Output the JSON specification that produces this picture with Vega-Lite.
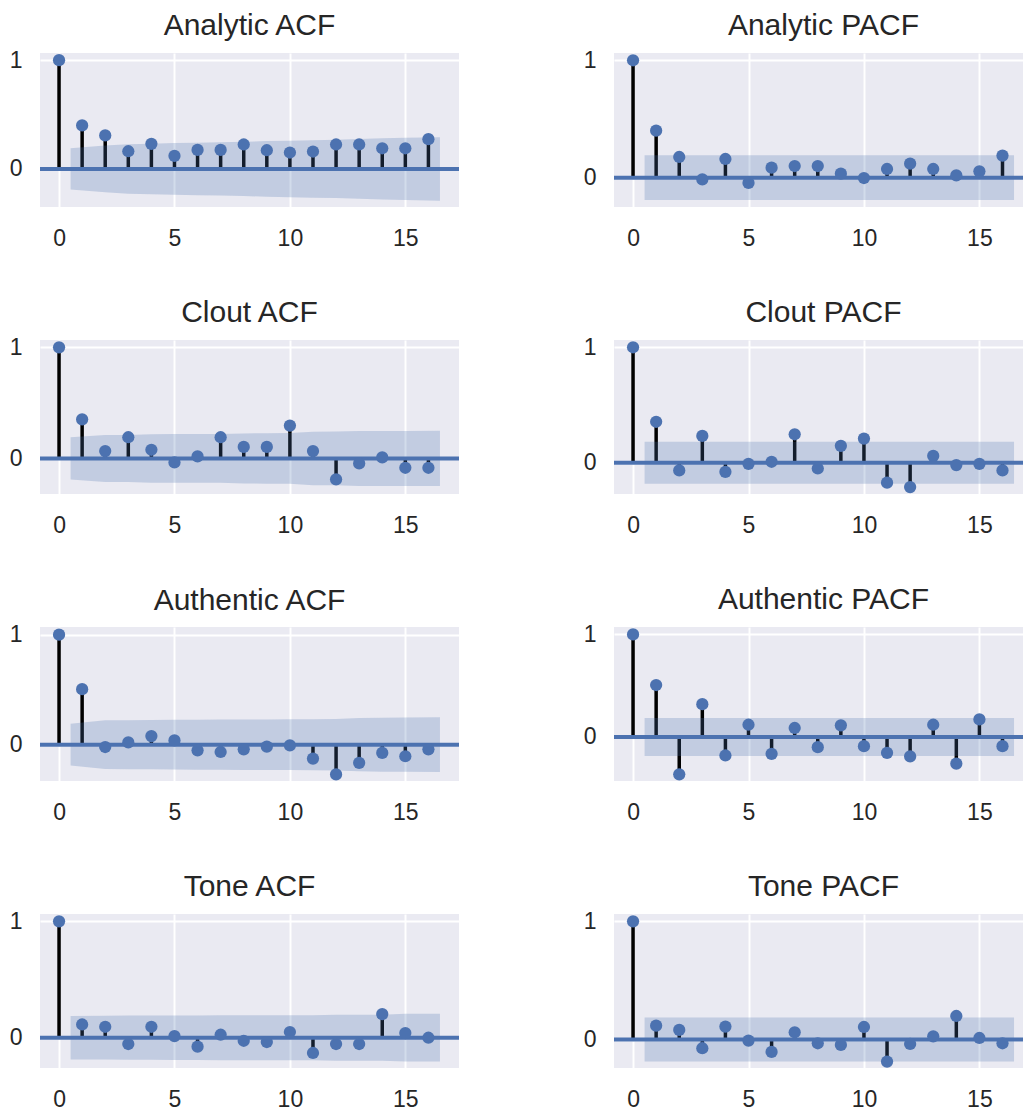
{
"$schema": "https://vega.github.io/schema/vega-lite/v6.json",
"background": "white",
"padding": {"left": 9, "top": 11, "right": 0, "bottom": 0},
"config": {
  "view": {"fill": "#EAEAF2", "stroke": null},
  "font": "Liberation Sans",
  "axis": {"domain": false, "ticks": false, "tickSize": 0, "grid": true, "gridColor": "#FFFFFF", "gridWidth": 2, "gridOpacity": 1, "labelFont": "Liberation Sans", "labelFontSize": 23, "labelColor": "#262626"},
  "axisX": {"labelPadding": 20},
  "axisY": {"labelPadding": 18},
  "title": {"font": "Liberation Sans", "fontSize": 30, "fontWeight": "normal", "color": "#262626", "baseline": "alphabetic", "offset": 8, "anchor": "middle", "frame": "group"}
},
"columns": 2,
"spacing": {"row": 133, "column": 155},
"bounds": "flush",
"datasets": {
  "zero": [{"y": 0}],
  "acf": [
    {"p":"aa","lag":0,"v":1},{"p":"aa","lag":1,"v":0.40},{"p":"aa","lag":2,"v":0.308},{"p":"aa","lag":3,"v":0.163},{"p":"aa","lag":4,"v":0.231},{"p":"aa","lag":5,"v":0.12},{"p":"aa","lag":6,"v":0.175},{"p":"aa","lag":7,"v":0.175},{"p":"aa","lag":8,"v":0.225},{"p":"aa","lag":9,"v":0.172},{"p":"aa","lag":10,"v":0.151},{"p":"aa","lag":11,"v":0.16},{"p":"aa","lag":12,"v":0.225},{"p":"aa","lag":13,"v":0.225},{"p":"aa","lag":14,"v":0.19},{"p":"aa","lag":15,"v":0.19},{"p":"aa","lag":16,"v":0.274},
    {"p":"ap","lag":0,"v":1},{"p":"ap","lag":1,"v":0.40},{"p":"ap","lag":2,"v":0.176},{"p":"ap","lag":3,"v":-0.014},{"p":"ap","lag":4,"v":0.159},{"p":"ap","lag":5,"v":-0.045},{"p":"ap","lag":6,"v":0.085},{"p":"ap","lag":7,"v":0.099},{"p":"ap","lag":8,"v":0.099},{"p":"ap","lag":9,"v":0.034},{"p":"ap","lag":10,"v":-0.003},{"p":"ap","lag":11,"v":0.074},{"p":"ap","lag":12,"v":0.119},{"p":"ap","lag":13,"v":0.074},{"p":"ap","lag":14,"v":0.02},{"p":"ap","lag":15,"v":0.054},{"p":"ap","lag":16,"v":0.188},
    {"p":"ca","lag":0,"v":1},{"p":"ca","lag":1,"v":0.352},{"p":"ca","lag":2,"v":0.066},{"p":"ca","lag":3,"v":0.191},{"p":"ca","lag":4,"v":0.078},{"p":"ca","lag":5,"v":-0.036},{"p":"ca","lag":6,"v":0.018},{"p":"ca","lag":7,"v":0.191},{"p":"ca","lag":8,"v":0.104},{"p":"ca","lag":9,"v":0.104},{"p":"ca","lag":10,"v":0.296},{"p":"ca","lag":11,"v":0.066},{"p":"ca","lag":12,"v":-0.188},{"p":"ca","lag":13,"v":-0.045},{"p":"ca","lag":14,"v":0.009},{"p":"ca","lag":15,"v":-0.084},{"p":"ca","lag":16,"v":-0.084},
    {"p":"cp","lag":0,"v":1},{"p":"cp","lag":1,"v":0.355},{"p":"cp","lag":2,"v":-0.066},{"p":"cp","lag":3,"v":0.233},{"p":"cp","lag":4,"v":-0.078},{"p":"cp","lag":5,"v":-0.009},{"p":"cp","lag":6,"v":0.009},{"p":"cp","lag":7,"v":0.247},{"p":"cp","lag":8,"v":-0.049},{"p":"cp","lag":9,"v":0.147},{"p":"cp","lag":10,"v":0.21},{"p":"cp","lag":11,"v":-0.172},{"p":"cp","lag":12,"v":-0.21},{"p":"cp","lag":13,"v":0.06},{"p":"cp","lag":14,"v":-0.02},{"p":"cp","lag":15,"v":-0.009},{"p":"cp","lag":16,"v":-0.066},
    {"p":"ua","lag":0,"v":1},{"p":"ua","lag":1,"v":0.505},{"p":"ua","lag":2,"v":-0.021},{"p":"ua","lag":3,"v":0.021},{"p":"ua","lag":4,"v":0.078},{"p":"ua","lag":5,"v":0.039},{"p":"ua","lag":6,"v":-0.051},{"p":"ua","lag":7,"v":-0.066},{"p":"ua","lag":8,"v":-0.042},{"p":"ua","lag":9,"v":-0.018},{"p":"ua","lag":10,"v":-0.006},{"p":"ua","lag":11,"v":-0.126},{"p":"ua","lag":12,"v":-0.27},{"p":"ua","lag":13,"v":-0.165},{"p":"ua","lag":14,"v":-0.075},{"p":"ua","lag":15,"v":-0.105},{"p":"ua","lag":16,"v":-0.042},
    {"p":"up","lag":0,"v":1},{"p":"up","lag":1,"v":0.506},{"p":"up","lag":2,"v":-0.365},{"p":"up","lag":3,"v":0.319},{"p":"up","lag":4,"v":-0.181},{"p":"up","lag":5,"v":0.119},{"p":"up","lag":6,"v":-0.165},{"p":"up","lag":7,"v":0.087},{"p":"up","lag":8,"v":-0.1},{"p":"up","lag":9,"v":0.113},{"p":"up","lag":10,"v":-0.09},{"p":"up","lag":11,"v":-0.155},{"p":"up","lag":12,"v":-0.19},{"p":"up","lag":13,"v":0.119},{"p":"up","lag":14,"v":-0.261},{"p":"up","lag":15,"v":0.171},{"p":"up","lag":16,"v":-0.09},
    {"p":"ta","lag":0,"v":1},{"p":"ta","lag":1,"v":0.114},{"p":"ta","lag":2,"v":0.094},{"p":"ta","lag":3,"v":-0.054},{"p":"ta","lag":4,"v":0.094},{"p":"ta","lag":5,"v":0.014},{"p":"ta","lag":6,"v":-0.077},{"p":"ta","lag":7,"v":0.026},{"p":"ta","lag":8,"v":-0.026},{"p":"ta","lag":9,"v":-0.037},{"p":"ta","lag":10,"v":0.049},{"p":"ta","lag":11,"v":-0.131},{"p":"ta","lag":12,"v":-0.054},{"p":"ta","lag":13,"v":-0.054},{"p":"ta","lag":14,"v":0.203},{"p":"ta","lag":15,"v":0.04},{"p":"ta","lag":16,"v":0},
    {"p":"tp","lag":0,"v":1},{"p":"tp","lag":1,"v":0.118},{"p":"tp","lag":2,"v":0.082},{"p":"tp","lag":3,"v":-0.073},{"p":"tp","lag":4,"v":0.11},{"p":"tp","lag":5,"v":-0.008},{"p":"tp","lag":6,"v":-0.104},{"p":"tp","lag":7,"v":0.062},{"p":"tp","lag":8,"v":-0.031},{"p":"tp","lag":9,"v":-0.045},{"p":"tp","lag":10,"v":0.107},{"p":"tp","lag":11,"v":-0.186},{"p":"tp","lag":12,"v":-0.037},{"p":"tp","lag":13,"v":0.028},{"p":"tp","lag":14,"v":0.2},{"p":"tp","lag":15,"v":0.014},{"p":"tp","lag":16,"v":-0.031}
  ],
  "band": [
    {"p":"aa","x":0.5,"lo":-0.19,"hi":0.19},{"p":"aa","x":2,"lo":-0.215,"hi":0.215},{"p":"aa","x":3,"lo":-0.228,"hi":0.228},{"p":"aa","x":4,"lo":-0.232,"hi":0.232},{"p":"aa","x":5,"lo":-0.238,"hi":0.238},{"p":"aa","x":6,"lo":-0.241,"hi":0.241},{"p":"aa","x":7,"lo":-0.245,"hi":0.245},{"p":"aa","x":8,"lo":-0.249,"hi":0.249},{"p":"aa","x":9,"lo":-0.256,"hi":0.256},{"p":"aa","x":10,"lo":-0.26,"hi":0.26},{"p":"aa","x":11,"lo":-0.264,"hi":0.264},{"p":"aa","x":12,"lo":-0.268,"hi":0.268},{"p":"aa","x":13,"lo":-0.275,"hi":0.275},{"p":"aa","x":14,"lo":-0.281,"hi":0.281},{"p":"aa","x":15,"lo":-0.286,"hi":0.286},{"p":"aa","x":16.5,"lo":-0.292,"hi":0.292},
    {"p":"ap","x":0.5,"lo":-0.19,"hi":0.19},{"p":"ap","x":2,"lo":-0.19,"hi":0.19},{"p":"ap","x":3,"lo":-0.19,"hi":0.19},{"p":"ap","x":4,"lo":-0.19,"hi":0.19},{"p":"ap","x":5,"lo":-0.19,"hi":0.19},{"p":"ap","x":6,"lo":-0.19,"hi":0.19},{"p":"ap","x":7,"lo":-0.19,"hi":0.19},{"p":"ap","x":8,"lo":-0.19,"hi":0.19},{"p":"ap","x":9,"lo":-0.19,"hi":0.19},{"p":"ap","x":10,"lo":-0.19,"hi":0.19},{"p":"ap","x":11,"lo":-0.19,"hi":0.19},{"p":"ap","x":12,"lo":-0.19,"hi":0.19},{"p":"ap","x":13,"lo":-0.19,"hi":0.19},{"p":"ap","x":14,"lo":-0.19,"hi":0.19},{"p":"ap","x":15,"lo":-0.19,"hi":0.19},{"p":"ap","x":16.5,"lo":-0.19,"hi":0.19},
    {"p":"ca","x":0.5,"lo":-0.19,"hi":0.19},{"p":"ca","x":2,"lo":-0.212,"hi":0.212},{"p":"ca","x":3,"lo":-0.212,"hi":0.212},{"p":"ca","x":4,"lo":-0.218,"hi":0.218},{"p":"ca","x":5,"lo":-0.219,"hi":0.219},{"p":"ca","x":6,"lo":-0.219,"hi":0.219},{"p":"ca","x":7,"lo":-0.219,"hi":0.219},{"p":"ca","x":8,"lo":-0.225,"hi":0.225},{"p":"ca","x":9,"lo":-0.227,"hi":0.227},{"p":"ca","x":10,"lo":-0.228,"hi":0.228},{"p":"ca","x":11,"lo":-0.241,"hi":0.241},{"p":"ca","x":12,"lo":-0.242,"hi":0.242},{"p":"ca","x":13,"lo":-0.247,"hi":0.247},{"p":"ca","x":14,"lo":-0.248,"hi":0.248},{"p":"ca","x":15,"lo":-0.248,"hi":0.248},{"p":"ca","x":16.5,"lo":-0.249,"hi":0.249},
    {"p":"cp","x":0.5,"lo":-0.182,"hi":0.182},{"p":"cp","x":2,"lo":-0.182,"hi":0.182},{"p":"cp","x":3,"lo":-0.182,"hi":0.182},{"p":"cp","x":4,"lo":-0.182,"hi":0.182},{"p":"cp","x":5,"lo":-0.182,"hi":0.182},{"p":"cp","x":6,"lo":-0.182,"hi":0.182},{"p":"cp","x":7,"lo":-0.182,"hi":0.182},{"p":"cp","x":8,"lo":-0.182,"hi":0.182},{"p":"cp","x":9,"lo":-0.182,"hi":0.182},{"p":"cp","x":10,"lo":-0.182,"hi":0.182},{"p":"cp","x":11,"lo":-0.182,"hi":0.182},{"p":"cp","x":12,"lo":-0.182,"hi":0.182},{"p":"cp","x":13,"lo":-0.182,"hi":0.182},{"p":"cp","x":14,"lo":-0.182,"hi":0.182},{"p":"cp","x":15,"lo":-0.182,"hi":0.182},{"p":"cp","x":16.5,"lo":-0.182,"hi":0.182},
    {"p":"ua","x":0.5,"lo":-0.19,"hi":0.19},{"p":"ua","x":2,"lo":-0.222,"hi":0.222},{"p":"ua","x":3,"lo":-0.223,"hi":0.223},{"p":"ua","x":4,"lo":-0.224,"hi":0.224},{"p":"ua","x":5,"lo":-0.226,"hi":0.226},{"p":"ua","x":6,"lo":-0.227,"hi":0.227},{"p":"ua","x":7,"lo":-0.228,"hi":0.228},{"p":"ua","x":8,"lo":-0.229,"hi":0.229},{"p":"ua","x":9,"lo":-0.23,"hi":0.23},{"p":"ua","x":10,"lo":-0.231,"hi":0.231},{"p":"ua","x":11,"lo":-0.232,"hi":0.232},{"p":"ua","x":12,"lo":-0.234,"hi":0.234},{"p":"ua","x":13,"lo":-0.242,"hi":0.242},{"p":"ua","x":14,"lo":-0.246,"hi":0.246},{"p":"ua","x":15,"lo":-0.247,"hi":0.247},{"p":"ua","x":16.5,"lo":-0.249,"hi":0.249},
    {"p":"up","x":0.5,"lo":-0.185,"hi":0.185},{"p":"up","x":2,"lo":-0.185,"hi":0.185},{"p":"up","x":3,"lo":-0.185,"hi":0.185},{"p":"up","x":4,"lo":-0.185,"hi":0.185},{"p":"up","x":5,"lo":-0.185,"hi":0.185},{"p":"up","x":6,"lo":-0.185,"hi":0.185},{"p":"up","x":7,"lo":-0.185,"hi":0.185},{"p":"up","x":8,"lo":-0.185,"hi":0.185},{"p":"up","x":9,"lo":-0.185,"hi":0.185},{"p":"up","x":10,"lo":-0.185,"hi":0.185},{"p":"up","x":11,"lo":-0.185,"hi":0.185},{"p":"up","x":12,"lo":-0.185,"hi":0.185},{"p":"up","x":13,"lo":-0.185,"hi":0.185},{"p":"up","x":14,"lo":-0.185,"hi":0.185},{"p":"up","x":15,"lo":-0.185,"hi":0.185},{"p":"up","x":16.5,"lo":-0.185,"hi":0.185},
    {"p":"ta","x":0.5,"lo":-0.186,"hi":0.186},{"p":"ta","x":2,"lo":-0.188,"hi":0.188},{"p":"ta","x":3,"lo":-0.19,"hi":0.19},{"p":"ta","x":4,"lo":-0.19,"hi":0.19},{"p":"ta","x":5,"lo":-0.192,"hi":0.192},{"p":"ta","x":6,"lo":-0.192,"hi":0.192},{"p":"ta","x":7,"lo":-0.193,"hi":0.193},{"p":"ta","x":8,"lo":-0.193,"hi":0.193},{"p":"ta","x":9,"lo":-0.193,"hi":0.193},{"p":"ta","x":10,"lo":-0.194,"hi":0.194},{"p":"ta","x":11,"lo":-0.194,"hi":0.194},{"p":"ta","x":12,"lo":-0.197,"hi":0.197},{"p":"ta","x":13,"lo":-0.198,"hi":0.198},{"p":"ta","x":14,"lo":-0.198,"hi":0.198},{"p":"ta","x":15,"lo":-0.205,"hi":0.205},{"p":"ta","x":16.5,"lo":-0.205,"hi":0.205},
    {"p":"tp","x":0.5,"lo":-0.186,"hi":0.186},{"p":"tp","x":2,"lo":-0.186,"hi":0.186},{"p":"tp","x":3,"lo":-0.186,"hi":0.186},{"p":"tp","x":4,"lo":-0.186,"hi":0.186},{"p":"tp","x":5,"lo":-0.186,"hi":0.186},{"p":"tp","x":6,"lo":-0.186,"hi":0.186},{"p":"tp","x":7,"lo":-0.186,"hi":0.186},{"p":"tp","x":8,"lo":-0.186,"hi":0.186},{"p":"tp","x":9,"lo":-0.186,"hi":0.186},{"p":"tp","x":10,"lo":-0.186,"hi":0.186},{"p":"tp","x":11,"lo":-0.186,"hi":0.186},{"p":"tp","x":12,"lo":-0.186,"hi":0.186},{"p":"tp","x":13,"lo":-0.186,"hi":0.186},{"p":"tp","x":14,"lo":-0.186,"hi":0.186},{"p":"tp","x":15,"lo":-0.186,"hi":0.186},{"p":"tp","x":16.5,"lo":-0.186,"hi":0.186}
  ]
},
"concat": [
  {"title": {"text": "Analytic ACF"}, "width": 419, "height": 154,
   "layer": [
    {"data": {"name": "acf"}, "transform": [{"filter": "datum.p === 'aa'"}], "mark": {"type": "rule", "color": "black", "strokeWidth": 3.5},
     "encoding": {"x": {"field": "lag", "type": "quantitative", "scale": {"domain": [-0.825, 17.325], "nice": false, "zero": false}, "axis": {"values": [0,5,10,15], "title": null, "format": "d"}},
                  "y": {"field": "v", "type": "quantitative", "scale": {"domain": [-0.35, 1.066], "nice": false, "zero": false}, "axis": {"values": [0,1], "title": null, "format": "d"}},
                  "y2": {"datum": 0}}},
    {"data": {"name": "band"}, "transform": [{"filter": "datum.p === 'aa'"}], "mark": {"type": "area", "color": "#4C72B0", "opacity": 0.25},
     "encoding": {"x": {"field": "x", "type": "quantitative", "scale": {"domain": [-0.825, 17.325], "nice": false, "zero": false}, "axis": {"values": [0,5,10,15], "title": null, "format": "d"}},
                  "y": {"field": "lo", "type": "quantitative", "scale": {"domain": [-0.35, 1.066], "nice": false, "zero": false}, "axis": {"values": [0,1], "title": null, "format": "d"}},
                  "y2": {"field": "hi"}}},
    {"data": {"name": "zero"}, "mark": {"type": "rule", "color": "#4C72B0", "strokeWidth": 4},
     "encoding": {"y": {"field": "y", "type": "quantitative", "scale": {"domain": [-0.35, 1.066], "nice": false, "zero": false}, "axis": {"values": [0,1], "title": null, "format": "d"}}}},
    {"data": {"name": "acf"}, "transform": [{"filter": "datum.p === 'aa'"}], "mark": {"type": "circle", "size": 150, "color": "#4C72B0", "opacity": 1},
     "encoding": {"x": {"field": "lag", "type": "quantitative", "scale": {"domain": [-0.825, 17.325], "nice": false, "zero": false}, "axis": {"values": [0,5,10,15], "title": null, "format": "d"}},
                  "y": {"field": "v", "type": "quantitative", "scale": {"domain": [-0.35, 1.066], "nice": false, "zero": false}, "axis": {"values": [0,1], "title": null, "format": "d"}}}}
   ]},
  {"title": {"text": "Analytic PACF", "dx": 5}, "width": 409, "height": 154,
   "layer": [
    {"data": {"name": "acf"}, "transform": [{"filter": "datum.p === 'ap'"}], "mark": {"type": "rule", "color": "black", "strokeWidth": 3.5},
     "encoding": {"x": {"field": "lag", "type": "quantitative", "scale": {"domain": [-0.825, 16.888], "nice": false, "zero": false}, "axis": {"values": [0,5,10,15], "title": null, "format": "d"}},
                  "y": {"field": "v", "type": "quantitative", "scale": {"domain": [-0.25, 1.062], "nice": false, "zero": false}, "axis": {"values": [0,1], "title": null, "format": "d"}},
                  "y2": {"datum": 0}}},
    {"data": {"name": "band"}, "transform": [{"filter": "datum.p === 'ap'"}], "mark": {"type": "area", "color": "#4C72B0", "opacity": 0.25},
     "encoding": {"x": {"field": "x", "type": "quantitative", "scale": {"domain": [-0.825, 16.888], "nice": false, "zero": false}, "axis": {"values": [0,5,10,15], "title": null, "format": "d"}},
                  "y": {"field": "lo", "type": "quantitative", "scale": {"domain": [-0.25, 1.062], "nice": false, "zero": false}, "axis": {"values": [0,1], "title": null, "format": "d"}},
                  "y2": {"field": "hi"}}},
    {"data": {"name": "zero"}, "mark": {"type": "rule", "color": "#4C72B0", "strokeWidth": 4},
     "encoding": {"y": {"field": "y", "type": "quantitative", "scale": {"domain": [-0.25, 1.062], "nice": false, "zero": false}, "axis": {"values": [0,1], "title": null, "format": "d"}}}},
    {"data": {"name": "acf"}, "transform": [{"filter": "datum.p === 'ap'"}], "mark": {"type": "circle", "size": 150, "color": "#4C72B0", "opacity": 1},
     "encoding": {"x": {"field": "lag", "type": "quantitative", "scale": {"domain": [-0.825, 16.888], "nice": false, "zero": false}, "axis": {"values": [0,5,10,15], "title": null, "format": "d"}},
                  "y": {"field": "v", "type": "quantitative", "scale": {"domain": [-0.25, 1.062], "nice": false, "zero": false}, "axis": {"values": [0,1], "title": null, "format": "d"}}}}
   ]},
  {"title": {"text": "Clout ACF"}, "width": 419, "height": 154,
   "layer": [
    {"data": {"name": "acf"}, "transform": [{"filter": "datum.p === 'ca'"}], "mark": {"type": "rule", "color": "black", "strokeWidth": 3.5},
     "encoding": {"x": {"field": "lag", "type": "quantitative", "scale": {"domain": [-0.825, 17.325], "nice": false, "zero": false}, "axis": {"values": [0,5,10,15], "title": null, "format": "d"}},
                  "y": {"field": "v", "type": "quantitative", "scale": {"domain": [-0.32, 1.066], "nice": false, "zero": false}, "axis": {"values": [0,1], "title": null, "format": "d"}},
                  "y2": {"datum": 0}}},
    {"data": {"name": "band"}, "transform": [{"filter": "datum.p === 'ca'"}], "mark": {"type": "area", "color": "#4C72B0", "opacity": 0.25},
     "encoding": {"x": {"field": "x", "type": "quantitative", "scale": {"domain": [-0.825, 17.325], "nice": false, "zero": false}, "axis": {"values": [0,5,10,15], "title": null, "format": "d"}},
                  "y": {"field": "lo", "type": "quantitative", "scale": {"domain": [-0.32, 1.066], "nice": false, "zero": false}, "axis": {"values": [0,1], "title": null, "format": "d"}},
                  "y2": {"field": "hi"}}},
    {"data": {"name": "zero"}, "mark": {"type": "rule", "color": "#4C72B0", "strokeWidth": 4},
     "encoding": {"y": {"field": "y", "type": "quantitative", "scale": {"domain": [-0.32, 1.066], "nice": false, "zero": false}, "axis": {"values": [0,1], "title": null, "format": "d"}}}},
    {"data": {"name": "acf"}, "transform": [{"filter": "datum.p === 'ca'"}], "mark": {"type": "circle", "size": 150, "color": "#4C72B0", "opacity": 1},
     "encoding": {"x": {"field": "lag", "type": "quantitative", "scale": {"domain": [-0.825, 17.325], "nice": false, "zero": false}, "axis": {"values": [0,5,10,15], "title": null, "format": "d"}},
                  "y": {"field": "v", "type": "quantitative", "scale": {"domain": [-0.32, 1.066], "nice": false, "zero": false}, "axis": {"values": [0,1], "title": null, "format": "d"}}}}
   ]},
  {"title": {"text": "Clout PACF", "dx": 5}, "width": 409, "height": 154,
   "layer": [
    {"data": {"name": "acf"}, "transform": [{"filter": "datum.p === 'cp'"}], "mark": {"type": "rule", "color": "black", "strokeWidth": 3.5},
     "encoding": {"x": {"field": "lag", "type": "quantitative", "scale": {"domain": [-0.825, 16.888], "nice": false, "zero": false}, "axis": {"values": [0,5,10,15], "title": null, "format": "d"}},
                  "y": {"field": "v", "type": "quantitative", "scale": {"domain": [-0.27, 1.063], "nice": false, "zero": false}, "axis": {"values": [0,1], "title": null, "format": "d"}},
                  "y2": {"datum": 0}}},
    {"data": {"name": "band"}, "transform": [{"filter": "datum.p === 'cp'"}], "mark": {"type": "area", "color": "#4C72B0", "opacity": 0.25},
     "encoding": {"x": {"field": "x", "type": "quantitative", "scale": {"domain": [-0.825, 16.888], "nice": false, "zero": false}, "axis": {"values": [0,5,10,15], "title": null, "format": "d"}},
                  "y": {"field": "lo", "type": "quantitative", "scale": {"domain": [-0.27, 1.063], "nice": false, "zero": false}, "axis": {"values": [0,1], "title": null, "format": "d"}},
                  "y2": {"field": "hi"}}},
    {"data": {"name": "zero"}, "mark": {"type": "rule", "color": "#4C72B0", "strokeWidth": 4},
     "encoding": {"y": {"field": "y", "type": "quantitative", "scale": {"domain": [-0.27, 1.063], "nice": false, "zero": false}, "axis": {"values": [0,1], "title": null, "format": "d"}}}},
    {"data": {"name": "acf"}, "transform": [{"filter": "datum.p === 'cp'"}], "mark": {"type": "circle", "size": 150, "color": "#4C72B0", "opacity": 1},
     "encoding": {"x": {"field": "lag", "type": "quantitative", "scale": {"domain": [-0.825, 16.888], "nice": false, "zero": false}, "axis": {"values": [0,5,10,15], "title": null, "format": "d"}},
                  "y": {"field": "v", "type": "quantitative", "scale": {"domain": [-0.27, 1.063], "nice": false, "zero": false}, "axis": {"values": [0,1], "title": null, "format": "d"}}}}
   ]},
  {"title": {"text": "Authentic ACF"}, "width": 419, "height": 154,
   "layer": [
    {"data": {"name": "acf"}, "transform": [{"filter": "datum.p === 'ua'"}], "mark": {"type": "rule", "color": "black", "strokeWidth": 3.5},
     "encoding": {"x": {"field": "lag", "type": "quantitative", "scale": {"domain": [-0.825, 17.325], "nice": false, "zero": false}, "axis": {"values": [0,5,10,15], "title": null, "format": "d"}},
                  "y": {"field": "v", "type": "quantitative", "scale": {"domain": [-0.33, 1.07], "nice": false, "zero": false}, "axis": {"values": [0,1], "title": null, "format": "d"}},
                  "y2": {"datum": 0}}},
    {"data": {"name": "band"}, "transform": [{"filter": "datum.p === 'ua'"}], "mark": {"type": "area", "color": "#4C72B0", "opacity": 0.25},
     "encoding": {"x": {"field": "x", "type": "quantitative", "scale": {"domain": [-0.825, 17.325], "nice": false, "zero": false}, "axis": {"values": [0,5,10,15], "title": null, "format": "d"}},
                  "y": {"field": "lo", "type": "quantitative", "scale": {"domain": [-0.33, 1.07], "nice": false, "zero": false}, "axis": {"values": [0,1], "title": null, "format": "d"}},
                  "y2": {"field": "hi"}}},
    {"data": {"name": "zero"}, "mark": {"type": "rule", "color": "#4C72B0", "strokeWidth": 4},
     "encoding": {"y": {"field": "y", "type": "quantitative", "scale": {"domain": [-0.33, 1.07], "nice": false, "zero": false}, "axis": {"values": [0,1], "title": null, "format": "d"}}}},
    {"data": {"name": "acf"}, "transform": [{"filter": "datum.p === 'ua'"}], "mark": {"type": "circle", "size": 150, "color": "#4C72B0", "opacity": 1},
     "encoding": {"x": {"field": "lag", "type": "quantitative", "scale": {"domain": [-0.825, 17.325], "nice": false, "zero": false}, "axis": {"values": [0,5,10,15], "title": null, "format": "d"}},
                  "y": {"field": "v", "type": "quantitative", "scale": {"domain": [-0.33, 1.07], "nice": false, "zero": false}, "axis": {"values": [0,1], "title": null, "format": "d"}}}}
   ]},
  {"title": {"text": "Authentic PACF", "dx": 5}, "width": 409, "height": 154,
   "layer": [
    {"data": {"name": "acf"}, "transform": [{"filter": "datum.p === 'up'"}], "mark": {"type": "rule", "color": "black", "strokeWidth": 3.5},
     "encoding": {"x": {"field": "lag", "type": "quantitative", "scale": {"domain": [-0.825, 16.888], "nice": false, "zero": false}, "axis": {"values": [0,5,10,15], "title": null, "format": "d"}},
                  "y": {"field": "v", "type": "quantitative", "scale": {"domain": [-0.43, 1.072], "nice": false, "zero": false}, "axis": {"values": [0,1], "title": null, "format": "d"}},
                  "y2": {"datum": 0}}},
    {"data": {"name": "band"}, "transform": [{"filter": "datum.p === 'up'"}], "mark": {"type": "area", "color": "#4C72B0", "opacity": 0.25},
     "encoding": {"x": {"field": "x", "type": "quantitative", "scale": {"domain": [-0.825, 16.888], "nice": false, "zero": false}, "axis": {"values": [0,5,10,15], "title": null, "format": "d"}},
                  "y": {"field": "lo", "type": "quantitative", "scale": {"domain": [-0.43, 1.072], "nice": false, "zero": false}, "axis": {"values": [0,1], "title": null, "format": "d"}},
                  "y2": {"field": "hi"}}},
    {"data": {"name": "zero"}, "mark": {"type": "rule", "color": "#4C72B0", "strokeWidth": 4},
     "encoding": {"y": {"field": "y", "type": "quantitative", "scale": {"domain": [-0.43, 1.072], "nice": false, "zero": false}, "axis": {"values": [0,1], "title": null, "format": "d"}}}},
    {"data": {"name": "acf"}, "transform": [{"filter": "datum.p === 'up'"}], "mark": {"type": "circle", "size": 150, "color": "#4C72B0", "opacity": 1},
     "encoding": {"x": {"field": "lag", "type": "quantitative", "scale": {"domain": [-0.825, 16.888], "nice": false, "zero": false}, "axis": {"values": [0,5,10,15], "title": null, "format": "d"}},
                  "y": {"field": "v", "type": "quantitative", "scale": {"domain": [-0.43, 1.072], "nice": false, "zero": false}, "axis": {"values": [0,1], "title": null, "format": "d"}}}}
   ]},
  {"title": {"text": "Tone ACF"}, "width": 419, "height": 154,
   "layer": [
    {"data": {"name": "acf"}, "transform": [{"filter": "datum.p === 'ta'"}], "mark": {"type": "rule", "color": "black", "strokeWidth": 3.5},
     "encoding": {"x": {"field": "lag", "type": "quantitative", "scale": {"domain": [-0.825, 17.325], "nice": false, "zero": false}, "axis": {"values": [0,5,10,15], "title": null, "format": "d"}},
                  "y": {"field": "v", "type": "quantitative", "scale": {"domain": [-0.26, 1.063], "nice": false, "zero": false}, "axis": {"values": [0,1], "title": null, "format": "d"}},
                  "y2": {"datum": 0}}},
    {"data": {"name": "band"}, "transform": [{"filter": "datum.p === 'ta'"}], "mark": {"type": "area", "color": "#4C72B0", "opacity": 0.25},
     "encoding": {"x": {"field": "x", "type": "quantitative", "scale": {"domain": [-0.825, 17.325], "nice": false, "zero": false}, "axis": {"values": [0,5,10,15], "title": null, "format": "d"}},
                  "y": {"field": "lo", "type": "quantitative", "scale": {"domain": [-0.26, 1.063], "nice": false, "zero": false}, "axis": {"values": [0,1], "title": null, "format": "d"}},
                  "y2": {"field": "hi"}}},
    {"data": {"name": "zero"}, "mark": {"type": "rule", "color": "#4C72B0", "strokeWidth": 4},
     "encoding": {"y": {"field": "y", "type": "quantitative", "scale": {"domain": [-0.26, 1.063], "nice": false, "zero": false}, "axis": {"values": [0,1], "title": null, "format": "d"}}}},
    {"data": {"name": "acf"}, "transform": [{"filter": "datum.p === 'ta'"}], "mark": {"type": "circle", "size": 150, "color": "#4C72B0", "opacity": 1},
     "encoding": {"x": {"field": "lag", "type": "quantitative", "scale": {"domain": [-0.825, 17.325], "nice": false, "zero": false}, "axis": {"values": [0,5,10,15], "title": null, "format": "d"}},
                  "y": {"field": "v", "type": "quantitative", "scale": {"domain": [-0.26, 1.063], "nice": false, "zero": false}, "axis": {"values": [0,1], "title": null, "format": "d"}}}}
   ]},
  {"title": {"text": "Tone PACF", "dx": 5}, "width": 409, "height": 154,
   "layer": [
    {"data": {"name": "acf"}, "transform": [{"filter": "datum.p === 'tp'"}], "mark": {"type": "rule", "color": "black", "strokeWidth": 3.5},
     "encoding": {"x": {"field": "lag", "type": "quantitative", "scale": {"domain": [-0.825, 16.888], "nice": false, "zero": false}, "axis": {"values": [0,5,10,15], "title": null, "format": "d"}},
                  "y": {"field": "v", "type": "quantitative", "scale": {"domain": [-0.24, 1.062], "nice": false, "zero": false}, "axis": {"values": [0,1], "title": null, "format": "d"}},
                  "y2": {"datum": 0}}},
    {"data": {"name": "band"}, "transform": [{"filter": "datum.p === 'tp'"}], "mark": {"type": "area", "color": "#4C72B0", "opacity": 0.25},
     "encoding": {"x": {"field": "x", "type": "quantitative", "scale": {"domain": [-0.825, 16.888], "nice": false, "zero": false}, "axis": {"values": [0,5,10,15], "title": null, "format": "d"}},
                  "y": {"field": "lo", "type": "quantitative", "scale": {"domain": [-0.24, 1.062], "nice": false, "zero": false}, "axis": {"values": [0,1], "title": null, "format": "d"}},
                  "y2": {"field": "hi"}}},
    {"data": {"name": "zero"}, "mark": {"type": "rule", "color": "#4C72B0", "strokeWidth": 4},
     "encoding": {"y": {"field": "y", "type": "quantitative", "scale": {"domain": [-0.24, 1.062], "nice": false, "zero": false}, "axis": {"values": [0,1], "title": null, "format": "d"}}}},
    {"data": {"name": "acf"}, "transform": [{"filter": "datum.p === 'tp'"}], "mark": {"type": "circle", "size": 150, "color": "#4C72B0", "opacity": 1},
     "encoding": {"x": {"field": "lag", "type": "quantitative", "scale": {"domain": [-0.825, 16.888], "nice": false, "zero": false}, "axis": {"values": [0,5,10,15], "title": null, "format": "d"}},
                  "y": {"field": "v", "type": "quantitative", "scale": {"domain": [-0.24, 1.062], "nice": false, "zero": false}, "axis": {"values": [0,1], "title": null, "format": "d"}}}}
   ]}
]
}
